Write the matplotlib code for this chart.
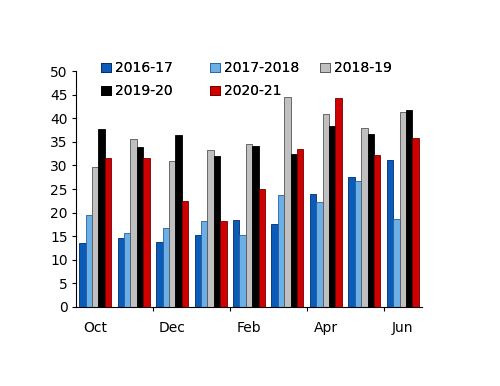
import numpy as np
import matplotlib
matplotlib.use('Agg')
import matplotlib.pyplot as plt

months = ['Oct', 'Nov', 'Dec', 'Jan', 'Feb', 'Mar', 'Apr', 'May', 'Jun']
seasons = ['2016-17', '2017-2018', '2018-19', '2019-20', '2020-21']

s2016 = [13.6, 14.6, 13.8, 15.2, 18.5, 17.5, 23.9, 27.6, 31.2]
s2017 = [19.5, 15.6, 16.7, 18.2, 15.3, 23.7, 22.3, 26.8, 18.7]
s2018 = [29.7, 35.5, 31.0, 33.2, 34.6, 44.5, 40.9, 38.0, 41.3]
s2019 = [37.8, 34.0, 36.5, 32.0, 34.2, 32.5, 38.4, 36.6, 41.7]
s2020 = [31.6, 31.6, 22.5, 18.3, 24.9, 33.5, 44.2, 32.1, 35.9]

colors = ['#0a5cb8', '#6ab0e6', '#c0c0c0', '#000000', '#d00000']
edges = ['#002a6e', '#2a5f9e', '#555555', '#000000', '#6e0000']

plt.rcParams['font.family'] = ['DejaVu Sans']
fig = plt.figure(figsize=(5, 3.86), dpi=100)
ax = fig.add_axes([0.152, 0.2047, 0.692, 0.6113])

x = np.arange(len(months))
w = 0.166
series = [s2016, s2017, s2018, s2019, s2020]
handles = []
for i, vals in enumerate(series):
    b = ax.bar(x + (i - 2) * w, vals, width=w, color=colors[i],
               edgecolor=edges[i], linewidth=0.6, label=seasons[i])
    handles.append(b)

ax.set_xlim(-0.5, 8.5)
ax.set_ylim(0, 50)
ax.set_yticks(range(0, 51, 5))
ax.set_xticks([1.5, 3.5, 5.5, 7.5])
ax.set_xticklabels([])
ax.set_xticks([0, 2, 4, 6, 8], minor=True)
ax.set_xticklabels(['Oct', 'Dec', 'Feb', 'Apr', 'Jun'], minor=True)
ax.tick_params(axis='x', which='minor', length=0, pad=10, labelsize=10)
ax.tick_params(axis='x', which='major', length=3, direction='out')
ax.tick_params(axis='y', length=3, direction='out', labelsize=10, pad=3)
for s in ['top', 'right']:
    ax.spines[s].set_visible(False)

# legend laid out as three fixed columns, filled row by row
cols = [[0, 3], [1, 4], [2]]
col_x = [0.202, 0.420, 0.640]
for cx, idx in zip(col_x, cols):
    leg = fig.legend(handles=[handles[k] for k in idx],
                     labels=[seasons[k] for k in idx], loc='upper left',
                     bbox_to_anchor=(cx, 0.841), frameon=False, fontsize=10,
                     handlelength=0.7, handleheight=0.7, handletextpad=0.3,
                     labelspacing=0.65, borderaxespad=0, borderpad=0)
    fig.add_artist(leg)

fig.savefig('out.png', dpi=100)
